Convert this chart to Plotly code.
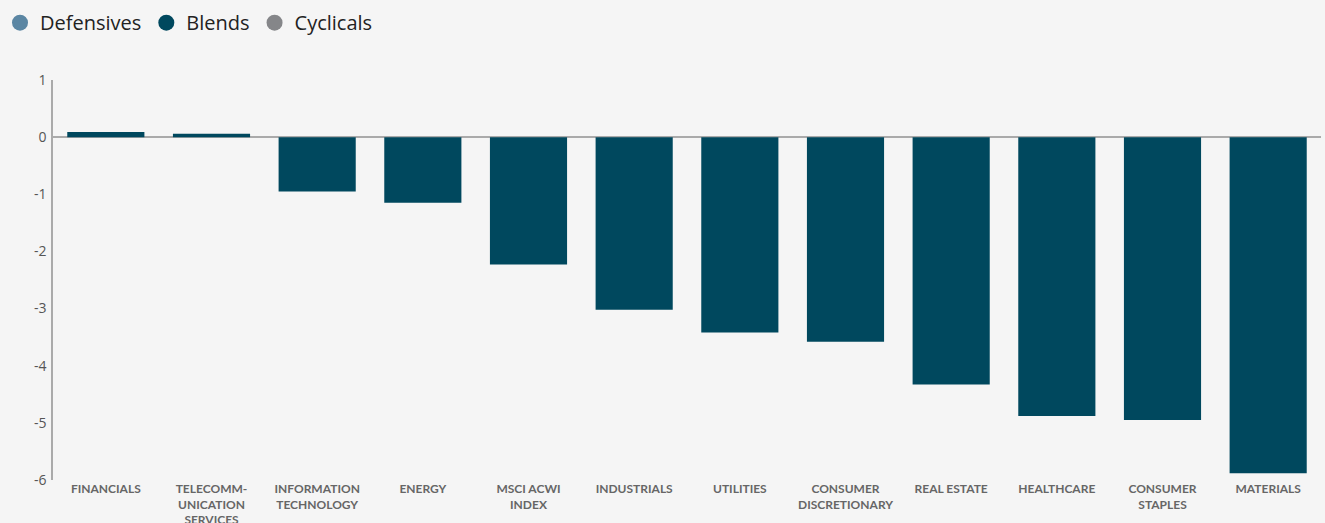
import plotly.graph_objects as go

categories = ["FINANCIALS", "TELECOMM-<br>UNICATION<br>SERVICES", "INFORMATION<br>TECHNOLOGY",
              "ENERGY", "MSCI ACWI<br>INDEX", "INDUSTRIALS", "UTILITIES",
              "CONSUMER<br>DISCRETIONARY", "REAL ESTATE", "HEALTHCARE",
              "CONSUMER<br>STAPLES", "MATERIALS"]
values = [0.09, 0.06, -0.95, -1.15, -2.23, -3.02, -3.42, -3.58, -4.33, -4.88, -4.95, -5.88]
legend_names = ["Defensives", "Blends", "Cyclicals"]
legend_colors = ["#5b86a3", "#00485e", "#858689"]
bar_color = "#00485e"
y_ticks = [1, 0, -1, -2, -3, -4, -5, -6]
y_tick_text = ["1", "0", "-1", "-2", "-3", "-4", "-5", "-6"]

fig = go.Figure()
fig.add_trace(go.Bar(x=categories, y=values, marker=dict(color=bar_color, line=dict(width=0)),
                     width=0.73, showlegend=False))
for n, c in zip(legend_names, legend_colors):
    fig.add_trace(go.Scatter(x=[None], y=[None], mode="markers", name=n,
                             marker=dict(color=c, size=16, symbol="circle")))

fig.update_layout(
    width=1325, height=523,
    paper_bgcolor="#f5f5f5", plot_bgcolor="#f5f5f5",
    margin=dict(l=53, r=4, t=80, b=43, autoexpand=False),
    font=dict(family="Open Sans, Lato, sans-serif"),
    showlegend=True,
    legend=dict(orientation="h", xref="container", yref="container", x=-0.005, y=0.994,
                xanchor="left", yanchor="top", font=dict(size=20, color="#222"),
                itemsizing="trace", bgcolor="rgba(0,0,0,0)", tracegroupgap=0),
    bargap=0.27,
)
fig.update_yaxes(range=[-6, 1], tickvals=y_ticks, ticktext=y_tick_text, showgrid=False, zeroline=True,
                 zerolinecolor="#aaaaaa", zerolinewidth=2, showline=True, linecolor="#aaaaaa",
                 linewidth=1.5, ticks="", ticklabelstandoff=2,
                 tickfont=dict(size=14, color="#555555", family="Open Sans, sans-serif"),
                 automargin=False)
fig.update_xaxes(showgrid=False, showline=False, ticks="", automargin=False,
                 tickfont=dict(size=12, color="#666666", family="Lato, sans-serif", weight="bold"),
                 tickangle=0)

fig.write_html("out.html", config={"displayModeBar": False},
               post_script="document.body.style.margin='0';document.body.style.background='#f5f5f5';")
